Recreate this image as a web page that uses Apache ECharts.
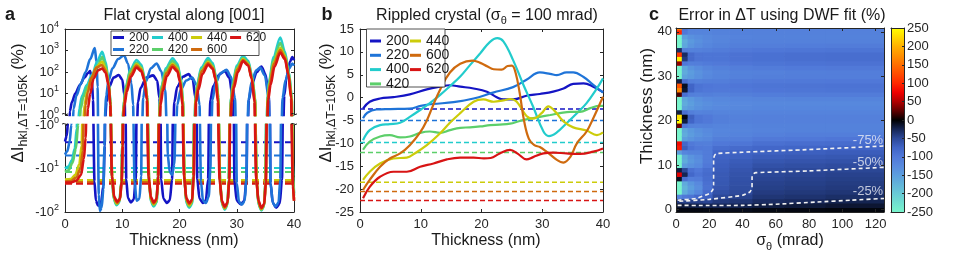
<!DOCTYPE html>
<html><head><meta charset="utf-8">
<script src="https://cdn.jsdelivr.net/npm/echarts@6/dist/echarts.min.js"></script>
<style>html,body{margin:0;padding:0;background:#fff}#c{width:954px;height:258px}</style>
</head><body><div id="c"></div><script>
// ---------------- DATA ----------------
const hklNames = ['200','220','400','420','440','600','620'];
const thicknessTicks = [0,10,20,30,40];
const sigmaTicks = [0,20,40,60,80,100,120];
const colorbarTicks = [-250,-200,-150,-100,-50,0,50,100,150,200,250];
const dwfLevels = [-2.5,-5,-9.8,-12,-18.5,-20.5,-22.5];

const flat200 = [[0,-2.4],[0.3,-1.8],[0.55,-0.8],[0.7,0],[0.85,1.5],[1.2,4],[1.8,10],[2.6,25],[3.4,55],[4.0,90],[4.4,110],[4.7,40],[4.9,5],[5.0,0],[5.15,-20],[5.4,-55],[5.8,-72],[6.3,-60],[6.7,-25],[6.95,-3],[7.05,0],[7.25,4],[7.7,20],[8.5,55],[9.4,72],[10.0,45],[10.4,8],[10.55,0],[10.7,-18],[11.0,-48],[11.5,-60],[12.0,-52],[12.35,-18],[12.55,0],[12.75,4],[13.2,18],[14.2,55],[15.4,70],[16.1,40],[16.5,6],[16.65,0],[16.8,-18],[17.2,-50],[17.8,-62],[18.3,-54],[18.7,-18],[18.9,0],[19.1,4],[19.6,20],[20.6,60],[21.6,80],[22.3,45],[22.8,6],[22.95,0],[23.1,-18],[23.5,-50],[24.1,-62],[24.6,-54],[25.0,-18],[25.2,0],[25.4,5],[25.9,22],[26.9,75],[27.9,110],[28.7,55],[29.3,6],[29.45,0],[29.6,-20],[30.0,-55],[30.7,-66],[31.3,-56],[31.7,-18],[31.9,0],[32.1,5],[32.6,25],[33.5,100],[34.3,180],[35.0,80],[35.6,8],[35.75,0],[35.9,-22],[36.3,-62],[36.9,-80],[37.5,-64],[37.9,-18],[38.1,0],[38.3,8],[38.7,60],[39.3,300],[39.7,500],[40,350]];
const flat220 = [[0,-4.8],[0.4,-4],[0.8,-2.5],[1.1,-1],[1.3,0],[1.5,2],[2.0,8],[2.8,30],[3.6,100],[4.4,400],[5.2,1300],[5.5,300],[5.7,20],[5.8,0],[5.9,-40],[6.1,-95],[6.4,-80],[6.7,-30],[6.9,-3],[7.0,0],[7.2,8],[7.6,40],[8.3,150],[9.3,400],[10.3,600],[11.0,250],[11.6,30],[11.9,3],[12.0,0],[12.15,-20],[12.5,-55],[13.0,-50],[13.3,-15],[13.45,0],[13.65,6],[14.1,35],[15.0,150],[16.0,250],[16.8,110],[17.5,15],[17.8,0],[17.95,-5],[18.3,-12],[18.7,-14],[19.1,-8],[19.4,0],[19.6,3],[20.2,15],[21.2,40],[22.2,55],[23.0,25],[23.5,3],[23.6,0],[23.75,-20],[24.1,-55],[24.6,-62],[25.1,-45],[25.4,-10],[25.55,0],[25.75,5],[26.3,30],[27.2,90],[28.2,125],[29.0,60],[29.7,6],[29.85,0],[30.0,-22],[30.4,-58],[30.9,-68],[31.4,-55],[31.7,-15],[31.85,0],[32.05,5],[32.6,35],[33.4,120],[34.1,160],[34.9,70],[35.6,6],[35.75,0],[35.9,-22],[36.3,-62],[36.8,-75],[37.3,-60],[37.6,-18],[37.8,0],[38.0,6],[38.5,40],[39.2,150],[39.7,250],[40,200]];
const flat400 = [[0,-10],[0.6,-9],[1.2,-6.5],[1.7,-3.5],[2.05,-1.2],[2.25,0],[2.5,2],[3.0,8],[3.8,25],[4.8,80],[5.6,300],[6.5,880],[7.1,300],[7.6,40],[7.95,4],[8.05,0],[8.2,-15],[8.5,-50],[9.0,-70],[9.5,-60],[9.85,-20],[10.0,-3],[10.1,0],[10.3,5],[10.7,25],[11.4,130],[12.5,360],[13.3,220],[13.9,60],[14.4,6],[14.5,0],[14.7,-20],[15.0,-58],[15.5,-75],[16.0,-60],[16.25,-15],[16.4,0],[16.6,5],[16.9,25],[17.6,150],[18.8,435],[19.6,250],[20.2,60],[20.6,5],[20.7,0],[20.9,-22],[21.2,-62],[21.7,-80],[22.2,-64],[22.4,-15],[22.6,0],[22.8,6],[23.1,28],[23.8,160],[25.0,440],[25.8,260],[26.4,60],[26.8,6],[26.9,0],[27.1,-22],[27.4,-66],[27.9,-88],[28.4,-68],[28.6,-18],[28.8,0],[29.0,6],[29.3,30],[30.0,200],[31.1,560],[32.0,330],[32.7,60],[33.2,6],[33.3,0],[33.5,-22],[33.8,-68],[34.3,-92],[34.8,-72],[35.0,-20],[35.2,0],[35.4,8],[35.7,45],[36.4,500],[37.6,4000],[38.4,900],[39.1,100],[39.6,8],[39.7,0],[39.85,-15],[40,-37]];
const flat420 = [[0,-12],[0.6,-11],[1.3,-7.5],[1.9,-3.5],[2.3,-1],[2.5,0],[2.75,2],[3.2,7],[4.0,22],[5.0,70],[5.8,220],[6.5,500],[7.1,200],[7.6,35],[7.95,4],[8.05,0],[8.2,-15],[8.5,-48],[9.0,-66],[9.5,-56],[9.85,-20],[10.0,-3],[10.1,0],[10.3,5],[10.7,22],[11.4,110],[12.5,270],[13.3,170],[13.9,50],[14.4,6],[14.5,0],[14.7,-20],[15.0,-55],[15.5,-70],[16.0,-58],[16.25,-15],[16.4,0],[16.6,5],[16.9,22],[17.6,120],[18.8,320],[19.6,190],[20.2,50],[20.6,5],[20.7,0],[20.9,-20],[21.2,-58],[21.7,-75],[22.2,-60],[22.4,-15],[22.6,0],[22.8,6],[23.1,25],[23.8,130],[25.0,340],[25.8,200],[26.4,55],[26.8,6],[26.9,0],[27.1,-20],[27.4,-62],[27.9,-84],[28.4,-65],[28.6,-18],[28.8,0],[29.0,6],[29.3,26],[30.0,160],[31.1,450],[32.0,270],[32.7,55],[33.2,6],[33.3,0],[33.5,-20],[33.8,-64],[34.3,-88],[34.8,-70],[35.0,-20],[35.2,0],[35.4,7],[35.7,38],[36.4,350],[37.6,2200],[38.4,650],[39.1,90],[39.6,7],[39.7,0],[39.85,-18],[40,-42]];
const flat440 = [[0,-18],[1,-17.5],[1.8,-14],[2.5,-8],[2.9,-3],[3.15,0],[3.4,3],[3.9,12],[4.6,50],[5.5,170],[6.5,300],[7.1,140],[7.6,30],[7.95,3],[8.05,0],[8.25,-17],[8.6,-50],[9.05,-64],[9.55,-54],[9.9,-20],[10.05,-3],[10.15,0],[10.35,4],[10.8,18],[11.5,85],[12.5,230],[13.3,150],[13.9,45],[14.4,5],[14.5,0],[14.7,-18],[15.0,-52],[15.5,-66],[16.0,-55],[16.25,-15],[16.45,0],[16.65,4],[17.0,18],[17.7,95],[18.8,240],[19.6,150],[20.1,45],[20.6,4],[20.7,0],[20.9,-18],[21.2,-54],[21.7,-70],[22.2,-57],[22.45,-15],[22.65,0],[22.85,5],[23.2,20],[23.9,115],[25.0,290],[25.8,175],[26.3,50],[26.8,5],[26.9,0],[27.1,-20],[27.4,-60],[27.9,-82],[28.4,-63],[28.65,-18],[28.85,0],[29.05,5],[29.4,22],[30.1,140],[31.1,400],[32.0,240],[32.6,55],[33.2,5],[33.3,0],[33.5,-20],[33.8,-62],[34.3,-86],[34.8,-69],[35.05,-20],[35.25,0],[35.45,6],[35.8,32],[36.5,280],[37.6,1300],[38.4,560],[39.0,90],[39.6,6],[39.7,0],[39.85,-25],[40,-50]];
const flat600 = [[0,-20],[1,-19.5],[2,-16],[2.7,-10],[3.1,-4],[3.35,0],[3.6,3],[4.0,12],[4.6,55],[5.5,160],[6.4,210],[7.1,120],[7.6,30],[7.95,3],[8.05,0],[8.25,-18],[8.6,-48],[9.1,-62],[9.6,-52],[9.9,-20],[10.05,-3],[10.15,0],[10.35,4],[10.8,18],[11.5,80],[12.5,200],[13.3,130],[13.9,45],[14.35,5],[14.45,0],[14.65,-18],[15.0,-50],[15.5,-64],[16.0,-52],[16.25,-15],[16.45,0],[16.65,4],[17.0,18],[17.7,90],[18.8,210],[19.6,130],[20.1,40],[20.55,4],[20.65,0],[20.85,-18],[21.2,-52],[21.7,-66],[22.2,-55],[22.45,-15],[22.65,0],[22.85,5],[23.2,20],[23.9,110],[25.0,260],[25.8,160],[26.3,50],[26.75,5],[26.85,0],[27.05,-20],[27.4,-60],[27.9,-80],[28.4,-62],[28.65,-18],[28.85,0],[29.05,5],[29.4,22],[30.1,130],[31.1,360],[32.0,220],[32.6,55],[33.15,5],[33.25,0],[33.45,-20],[33.8,-60],[34.3,-84],[34.8,-68],[35.05,-20],[35.25,0],[35.45,6],[35.8,30],[36.5,250],[37.6,1050],[38.4,480],[39.0,90],[39.55,6],[39.65,0],[39.85,-28],[40,-55]];
const flat620 = [[0,-21],[1,-21],[2,-19],[2.8,-14],[3.3,-6],[3.6,-2],[3.8,0],[4.0,2],[4.4,10],[5.0,50],[5.8,120],[6.5,145],[7.1,90],[7.6,25],[7.9,3],[8.0,0],[8.2,-15],[8.6,-45],[9.1,-58],[9.6,-50],[9.9,-20],[10.1,-3],[10.2,0],[10.4,3],[10.8,12],[11.5,60],[12.5,160],[13.3,110],[13.9,40],[14.3,5],[14.4,0],[14.6,-15],[15.0,-45],[15.5,-60],[16.0,-50],[16.3,-15],[16.5,0],[16.7,3],[17.1,13],[17.8,65],[18.8,170],[19.6,110],[20.1,35],[20.5,3],[20.6,0],[20.8,-15],[21.2,-48],[21.7,-62],[22.2,-52],[22.5,-15],[22.7,0],[22.9,4],[23.3,15],[24.0,80],[25.0,220],[25.8,140],[26.3,45],[26.7,4],[26.8,0],[27.0,-18],[27.4,-55],[27.9,-75],[28.4,-60],[28.7,-18],[28.9,0],[29.1,4],[29.5,18],[30.2,100],[31.1,320],[32.0,200],[32.6,50],[33.1,4],[33.2,0],[33.4,-18],[33.8,-55],[34.3,-80],[34.8,-65],[35.1,-20],[35.3,0],[35.5,5],[35.9,25],[36.6,180],[37.6,800],[38.4,400],[39.0,80],[39.5,6],[39.6,0],[39.8,-25],[40,-55]];

const rip200 = [[0.5,-2.4],[1.6,-0.9],[3.3,-0.2],[5.5,0.1],[8.2,0.7],[11,1.8],[13.2,2.4],[14.8,2.7],[16.5,2.4],[18.7,2.0],[20.9,1.3],[22.5,0.1],[23.6,-0.4],[25.2,-0.4],[27.4,0.4],[29.6,0.8],[31.8,1.3],[33.5,2.0],[35.1,3.0],[36.8,3.1],[38.4,2.4],[40,1.2]];
const rip220 = [[0.5,-4.5],[1.2,-3.3],[2.7,-2.6],[5,-2.5],[8.2,-2.4],[10,-1.8],[12,-1.4],[15.4,-1.0],[18.7,-0.2],[21.9,1.1],[25.2,2.3],[27.4,3.9],[29.6,5.5],[31.3,5.2],[32.4,4.9],[34,5.5],[35.1,5.5],[36.8,4.5],[38.4,2.8],[40,1.1]];
const rip400 = [[0.5,-9.3],[1.6,-7.1],[3.3,-6.0],[4.9,-5.8],[6.6,-5.5],[8.2,-4.2],[9.9,-2.7],[11.5,-1.2],[13.2,0.6],[14.8,2.5],[16.5,4.6],[18.1,7.1],[19.8,9.7],[21.4,12.2],[22.6,13.0],[23.6,12.3],[25.2,8.2],[26.8,3.1],[28.5,-2.0],[30.2,-7.4],[31.1,-8.4],[32.4,-7.6],[34,-5.6],[35.7,-3.4],[37.3,-1.2],[39,2.0],[40,4.2]];
const rip420 = [[0.5,-11.4],[1.6,-9.6],[3.3,-8.5],[4.9,-8.2],[6.6,-8.7],[8.2,-8.5],[9.9,-7.7],[11.5,-7.4],[13.2,-7.7],[14.8,-7.1],[16.5,-6.6],[18.1,-6.5],[19.8,-6.3],[21.4,-6.0],[23,-5.9],[24.7,-5.7],[26.3,-5.1],[28,-4.6],[29.6,-4.2],[31.3,-3.8],[32.9,-3.4],[34.6,-3.1],[36.2,-3.1],[37.9,-2.3],[39.5,-1.8],[40,-1.8]];
const rip440 = [[0.5,-18],[1.6,-16.2],[3.3,-14.4],[5.5,-13.3],[7.7,-13.1],[9,-12.2],[11,-10.4],[13.2,-7.8],[14.8,-5.5],[16.5,-3.4],[18.7,-0.9],[20.3,-0.4],[22,-0.9],[23.6,-0.6],[24.7,-0.3],[25.8,-0.9],[27.4,-4.0],[28.5,-4.6],[29.9,-3.4],[31,-1.9],[32.1,-3.0],[33.5,-5.2],[35.1,-6.5],[37.3,-7.2],[39,-8.2],[40,-7.6]];
const rip600 = [[0.5,-20.2],[1.6,-18],[3.3,-15.1],[4.9,-13.3],[6.6,-12.2],[8.2,-10.4],[9.9,-7.6],[11,-5],[12,-1.8],[13.2,1.8],[14.8,5.5],[16.5,7.4],[18.5,8.1],[19.8,7.6],[21,6.8],[22,6.2],[23.3,6.1],[24.3,6.9],[25.0,7.0],[25.6,5.5],[26.3,0.9],[27.0,-5],[27.8,-9],[28.7,-10.4],[29.6,-10.8],[30.7,-11.8],[32.4,-13.6],[33.5,-14.2],[34.6,-13],[35.7,-10],[37.3,-7.4],[38.4,-4.5],[40,0.2]];
const rip620 = [[0.5,-22],[1.6,-19.5],[3.3,-17.3],[5.5,-16.2],[7.7,-16.2],[9.9,-15.1],[12.1,-14.4],[14.3,-13.5],[16.5,-13.1],[18.7,-13.1],[20.4,-13.3],[21.5,-13.2],[23,-12.2],[24.7,-11.4],[26,-12.3],[27.4,-13.5],[28.5,-13.0],[30.2,-12.2],[31.8,-12.0],[34,-12.2],[36.2,-12.3],[38.4,-11.8],[40,-11.1]];

const sigmaEdges = [0,3.5,7,11,16,22,32,46,65,90,125];
const thickRows = [0,1,2,3,4,5,6,7,8,9,10,11,12,13,14,15,16,17,18,19,20,21,22,23,24,25,26,27,28,29,30,31,32,33,34,35,36,37,38,39,40,41];
const errCol1 = [-5,-15,-40,-120,-250,-250,-250,-10,70,-20,-250,-250,-250,-150,90,80,-250,-250,-250,30,250,230,-20,-250,-250,-250,20,170,130,-20,-250,-250,-250,40,240,110,-30,-250,-250,-250,100,160];
const errCol2 = [-5,-18,-45,-100,-165,-175,-165,-90,-25,-50,-145,-165,-160,-120,-70,-80,-150,-165,-160,-100,-20,-5,-90,-155,-165,-160,-90,-15,-10,-90,-155,-165,-160,-100,-40,-30,-110,-160,-165,-150,-100,-90];
const errCol3 = [-5,-20,-45,-95,-140,-150,-140,-108,-80,-90,-132,-142,-138,-114,-94,-102,-138,-148,-144,-114,-76,-72,-110,-144,-150,-144,-110,-76,-76,-110,-144,-148,-138,-110,-84,-84,-114,-138,-144,-134,-116,-112];
const errCol4 = [-5,-22,-45,-80,-120,-130,-124,-106,-94,-100,-123,-130,-126,-114,-102,-108,-128,-136,-132,-115,-96,-96,-115,-134,-138,-132,-112,-96,-94,-112,-132,-135,-127,-108,-95,-95,-112,-127,-132,-127,-116,-113];
const errCol5 = [-6,-24,-48,-72,-84,-92,-90,-86,-84,-88,-100,-106,-106,-106,-104,-110,-122,-128,-125,-114,-102,-102,-114,-128,-131,-125,-110,-100,-98,-110,-122,-125,-118,-104,-96,-96,-110,-120,-124,-122,-116,-114];
const errCol6 = [-8,-25,-40,-50,-58,-62,-64,-65,-66,-68,-70,-72,-74,-78,-88,-100,-110,-118,-120,-116,-110,-110,-116,-124,-126,-122,-112,-102,-100,-108,-116,-118,-112,-102,-96,-96,-106,-114,-118,-118,-114,-112];
const errCol7 = [-8,-24,-37,-46,-52,-55,-57,-58,-60,-62,-65,-68,-72,-75,-84,-97,-108,-115,-118,-116,-112,-112,-116,-122,-124,-120,-110,-101,-98,-104,-112,-114,-108,-98,-93,-93,-102,-110,-114,-115,-113,-112];
const errCol8 = [-6,-20,-30,-37,-41,-44,-46,-48,-50,-53,-58,-63,-68,-73,-79,-90,-102,-111,-115,-114,-111,-111,-115,-120,-122,-118,-107,-98,-96,-102,-110,-112,-105,-96,-91,-91,-99,-108,-112,-114,-113,-112];
const errCol9 = [-5,-18,-28,-35,-39,-42,-44,-46,-48,-51,-56,-61,-66,-71,-77,-88,-100,-109,-114,-114,-111,-111,-115,-120,-122,-117,-106,-97,-95,-101,-109,-110,-103,-94,-89,-89,-97,-107,-112,-114,-113,-112];
const errCol10 = [-4,-15,-24,-32,-37,-40,-42,-44,-46,-49,-54,-59,-64,-69,-75,-86,-98,-108,-114,-114,-111,-111,-115,-120,-122,-116,-105,-96,-94,-100,-108,-109,-102,-93,-88,-88,-96,-106,-112,-114,-113,-112];
const contour75 = [[1,2.1],[12,2.5],[20,3.6],[22,4.35],[22.6,5.5],[22.6,11.4],[23.2,12.2],[24.5,12.6],[40,12.9],[80,13.5],[125,14.3]];
const contour50 = [[2,1.86],[20,2.3],[40,3.2],[44.5,4.0],[45.7,5.0],[45.7,7.2],[46.4,8.0],[48,8.3],[80,8.7],[125,9.5]];
const contour25 = [[1,0.95],[20,0.9],[40,0.95],[60,1.2],[85,1.7],[105,2.1],[125,2.5]];
const contourLabels = [[124.5,15.6,'-75%'],[124.5,10.7,'-50%'],[124.5,4.0,'-25%']];

// ---------------- STYLE ----------------
const hklColors = ['#1414c4','#1f74d8','#22cccc','#5ccf6a','#cccc0a','#cf6a0e','#d81414'];
const cmapColors = ['#78f4cc','#70dfd0','#68cad6','#62b4da','#5c9ede','#588ade','#5078d8','#4064c6','#2c4898','#152554','#000000','#600000','#b00000','#f00000','#ff2800','#ff4c00','#ff6e00','#ff9000','#ffb000','#ffd800','#ffff00'];
const FONT = '"Liberation Sans", Arial, sans-serif';
const AX = '#262626';

const flatSeries = [flat200,flat220,flat400,flat420,flat440,flat600,flat620];
const ripSeries = [rip200,rip220,rip400,rip420,rip440,rip600,rip620];
const errCols = [errCol1,errCol2,errCol3,errCol4,errCol5,errCol6,errCol7,errCol8,errCol9,errCol10];
const BELOW = 0.2;

function ax(o){
  return Object.assign({
    type:'value',
    axisLine:{show:true,onZero:false,lineStyle:{color:AX,width:1}},
    axisTick:{show:true,inside:true,length:3,lineStyle:{color:AX,width:1}},
    axisLabel:{show:false},
    splitLine:{show:false}
  }, o);
}
function lab(extra){ return Object.assign({show:true,color:AX,fontSize:13,fontFamily:FONT}, extra); }
function tick(extra){ return Object.assign({show:true,inside:true,length:3,lineStyle:{color:AX,width:1}}, extra); }
const supRich = {
  b:{fontSize:13,fontFamily:FONT,color:AX,lineHeight:18,verticalAlign:'middle'},
  p:{fontSize:9,fontFamily:FONT,color:AX,lineHeight:8,verticalAlign:'top'}
};

const series = [];
hklNames.forEach((n,i)=>{
  series.push({type:'line',xAxisIndex:1,yAxisIndex:2,silent:true,symbol:'none',z:2,
    data:[[0,-dwfLevels[i]],[40,-dwfLevels[i]]],
    lineStyle:{color:hklColors[i],width:2,type:[7,4]}});
});
hklNames.forEach((n,i)=>{
  const common = {name:n,type:'line',symbol:'none',showSymbol:false,smooth:0.3,smoothMonotone:'x',clip:true,z:2,
    color:hklColors[i],lineStyle:{color:hklColors[i],width:2.6}};
  series.push(Object.assign({},common,{xAxisIndex:0,yAxisIndex:0,
    data:flatSeries[i].map(p=>[p[0], p[1]>0 ? p[1] : BELOW])}));
  series.push(Object.assign({},common,{xAxisIndex:1,yAxisIndex:2,
    data:flatSeries[i].map(p=>[p[0], p[1]<0 ? -p[1] : BELOW])}));
});
hklNames.forEach((n,i)=>{
  series.push({type:'line',xAxisIndex:2,yAxisIndex:4,silent:true,symbol:'none',z:2,
    data:[[0,dwfLevels[i]],[40,dwfLevels[i]]],
    lineStyle:{color:hklColors[i],width:1.5,type:[5,3]}});
});
hklNames.forEach((n,i)=>{
  series.push({name:n,type:'line',xAxisIndex:2,yAxisIndex:4,symbol:'none',showSymbol:false,smooth:0.4,z:2,
    color:hklColors[i],lineStyle:{color:hklColors[i],width:2.2},data:ripSeries[i]});
});
const cells = [];
for (let c=0;c<sigmaEdges.length-1;c++){
  for (let r=0;r<thickRows.length;r++){
    cells.push([sigmaEdges[c],sigmaEdges[c+1],thickRows[r]-0.5,thickRows[r]+0.5,errCols[c][r]]);
  }
}
const heatIndex = series.length;
series.push({type:'custom',xAxisIndex:4,yAxisIndex:6,clip:true,z:1,silent:true,
  encode:{x:[0,1],y:[2,3]},data:cells,
  renderItem:function(params,api){
    const p0 = api.coord([api.value(0),api.value(3)]);
    const p1 = api.coord([api.value(1),api.value(2)]);
    return {type:'rect',shape:{x:p0[0],y:p0[1],width:p1[0]-p0[0]+0.7,height:p1[1]-p0[1]+0.7},
      style:{fill:api.visual('color')}};
  }});
[contour75,contour50,contour25].forEach(cd=>{
  series.push({type:'line',xAxisIndex:4,yAxisIndex:6,symbol:'none',silent:true,z:3,smooth:0.15,
    data:cd,lineStyle:{color:'#f2f2f2',width:1.6,type:[4,3]}});
});
series.push({type:'scatter',xAxisIndex:4,yAxisIndex:6,symbolSize:0,silent:true,z:4,
  data:contourLabels,
  label:{show:true,position:[0,0],align:'right',verticalAlign:'middle',
    formatter:p=>p.value[2],color:'#e8ebf4',fontSize:13,fontFamily:FONT}});

const gradStops = cmapColors.map((c,i)=>({offset:i/(cmapColors.length-1),color:c}));
function txt(x,y,text,o){
  return Object.assign({type:'text',x:x,y:y,z:10,style:Object.assign({text:text,fill:'#1a1a1a',
    fontSize:16,fontFamily:FONT,textAlign:'center',textVerticalAlign:'middle'}, (o&&o.style)||{})},
    o&&o.rotation!==undefined?{rotation:o.rotation}:{});
}
const ylabRich = {
  a:{fontSize:17,fontFamily:FONT,fill:'#1a1a1a',color:'#1a1a1a',lineHeight:24,verticalAlign:'middle'},
  s:{fontSize:12.5,fontFamily:FONT,fill:'#1a1a1a',color:'#1a1a1a',lineHeight:12,verticalAlign:'bottom'}
};
const titleRich = {
  a:{fontSize:16,fontFamily:FONT,color:'#1a1a1a',lineHeight:22,verticalAlign:'middle'},
  s:{fontSize:11,fontFamily:FONT,color:'#1a1a1a',lineHeight:11,verticalAlign:'bottom'}
};
const ylabText = '{a|ΔI}{s|hkl,ΔT=105K}{a| (%)}';
const graphics = [
  {type:'rect',z:3,shape:{x:111,y:31,width:148,height:24.5},style:{fill:'#fff',stroke:AX,lineWidth:0.8}},
  {type:'rect',z:3,shape:{x:366.5,y:29,width:78.5,height:58},style:{fill:'#fff',stroke:AX,lineWidth:0.8}},
  {type:'rect',z:1,shape:{x:891,y:28,width:13,height:184},
    style:{fill:new echarts.graphic.LinearGradient(0,1,0,0,gradStops)}},
  txt(10,15,'a',{style:{fontWeight:'bold',fontSize:18}}),
  txt(327,15,'b',{style:{fontWeight:'bold',fontSize:18}}),
  txt(654,15,'c',{style:{fontWeight:'bold',fontSize:18}}),
  txt(184,15.5,'Flat crystal along [001]'),
  txt(487,15.5,'{a|Rippled crystal (σ}{s|θ}{a| = 100 mrad)}',{style:{rich:titleRich}}),
  txt(782,15.5,'Error in ΔT using DWF fit (%)'),
  txt(184,241,'Thickness (nm)'),
  txt(486,241,'Thickness (nm)'),
  txt(790,241,'{a|σ}{s|θ}{a| (mrad)}',{style:{rich:titleRich}}),
  txt(18,103,ylabText,{rotation:Math.PI/2,style:{rich:ylabRich}}),
  txt(326,103,ylabText,{rotation:Math.PI/2,style:{rich:ylabRich}}),
  txt(647,106,'Thickness (nm)',{rotation:Math.PI/2,style:{fontSize:17}}),
  txt(65,115,'~',{style:{fontSize:12}}),
  txt(65,124.5,'~',{style:{fontSize:12}}),
  txt(294,115,'~',{style:{fontSize:12}}),
  txt(294,124.5,'~',{style:{fontSize:12}})
];

const legendBase = {selectedMode:false,padding:0,icon:'rect',itemWidth:11,itemHeight:3,
  textStyle:{fontSize:12,fontFamily:FONT,color:'#1a1a1a',lineHeight:12}};
const option = {
  animation:false,
  backgroundColor:'#fff',
  textStyle:{fontFamily:FONT},
  grid:[
    {left:65,top:29,width:229,height:86,containLabel:false,outerBoundsMode:'none'},
    {left:65,top:125,width:229,height:87,containLabel:false,outerBoundsMode:'none'},
    {left:360,top:29,width:243,height:183,containLabel:false,outerBoundsMode:'none'},
    {left:676,top:28,width:208,height:184,containLabel:false,outerBoundsMode:'none'},
    {left:891,top:28,width:13,height:184,containLabel:false,outerBoundsMode:'none'}
  ],
  xAxis:[
    ax({gridIndex:0,position:'top',min:0,max:40,interval:10}),
    ax({gridIndex:1,position:'bottom',min:0,max:40,interval:10,axisLabel:lab({margin:6})}),
    ax({gridIndex:2,position:'bottom',min:0,max:40,interval:10,axisLabel:lab({margin:6})}),
    ax({gridIndex:2,position:'top',min:0,max:40,interval:10}),
    ax({gridIndex:3,position:'bottom',min:0,max:125,z:5,axisLabel:lab({margin:6,customValues:sigmaTicks}),axisTick:tick({customValues:sigmaTicks})}),
    ax({gridIndex:3,position:'top',min:0,max:125,z:5,axisTick:tick({customValues:sigmaTicks})}),
    ax({gridIndex:4,position:'bottom',min:0,max:1,z:5,axisTick:{show:false}}),
    ax({gridIndex:4,position:'top',min:0,max:1,z:5,axisTick:{show:false}})
  ],
  yAxis:[
    ax({gridIndex:0,type:'log',logBase:10,min:1,max:10000,position:'left',
      axisLabel:lab({margin:6,formatter:v=>'{b|10}{p|'+Math.round(Math.log10(v))+'}',rich:supRich})}),
    ax({gridIndex:0,type:'log',logBase:10,min:1,max:10000,position:'right'}),
    ax({gridIndex:1,type:'log',logBase:10,min:1,max:100,inverse:true,position:'left',
      axisLabel:lab({margin:6,formatter:v=>'{b|-10}{p|'+Math.round(Math.log10(v))+'}',rich:supRich})}),
    ax({gridIndex:1,type:'log',logBase:10,min:1,max:100,inverse:true,position:'right'}),
    ax({gridIndex:2,min:-25,max:15,interval:5,position:'left',axisLabel:lab({margin:6})}),
    ax({gridIndex:2,min:-25,max:15,interval:5,position:'right'}),
    ax({gridIndex:3,min:-0.55,max:40.85,position:'left',z:5,axisLabel:lab({margin:4,customValues:thicknessTicks}),axisTick:tick({customValues:thicknessTicks})}),
    ax({gridIndex:3,min:-0.55,max:40.85,position:'right',z:5,axisTick:tick({customValues:thicknessTicks})}),
    ax({gridIndex:4,min:-250,max:250,position:'right',z:5,axisLabel:lab({margin:3,customValues:colorbarTicks}),axisTick:tick({length:2,customValues:colorbarTicks})}),
    ax({gridIndex:4,min:-250,max:250,position:'left',z:5,axisTick:{show:false}})
  ],
  visualMap:{show:false,type:'continuous',min:-250,max:250,dimension:4,seriesIndex:heatIndex,
    inRange:{color:cmapColors}},
  legend:[
    Object.assign({},legendBase,{data:['200','400','440','620'],left:113,top:31.5,orient:'horizontal',itemGap:3}),
    Object.assign({},legendBase,{data:['220','420','600'],left:113,top:43.5,orient:'horizontal',itemGap:3}),
    Object.assign({},legendBase,{data:['200','220','400','420'],left:370,top:34,orient:'vertical',itemGap:0.3,
      itemWidth:11,textStyle:{fontSize:14,fontFamily:FONT,color:'#1a1a1a',lineHeight:12}}),
    Object.assign({},legendBase,{data:['440','600','620'],left:410,top:34,orient:'vertical',itemGap:0.3,
      itemWidth:11,textStyle:{fontSize:14,fontFamily:FONT,color:'#1a1a1a',lineHeight:12}})
  ],
  graphic:graphics,
  series:series
};
const chart = echarts.init(document.getElementById('c'),null,{renderer:'canvas'});
chart.setOption(option);
</script></body></html>
